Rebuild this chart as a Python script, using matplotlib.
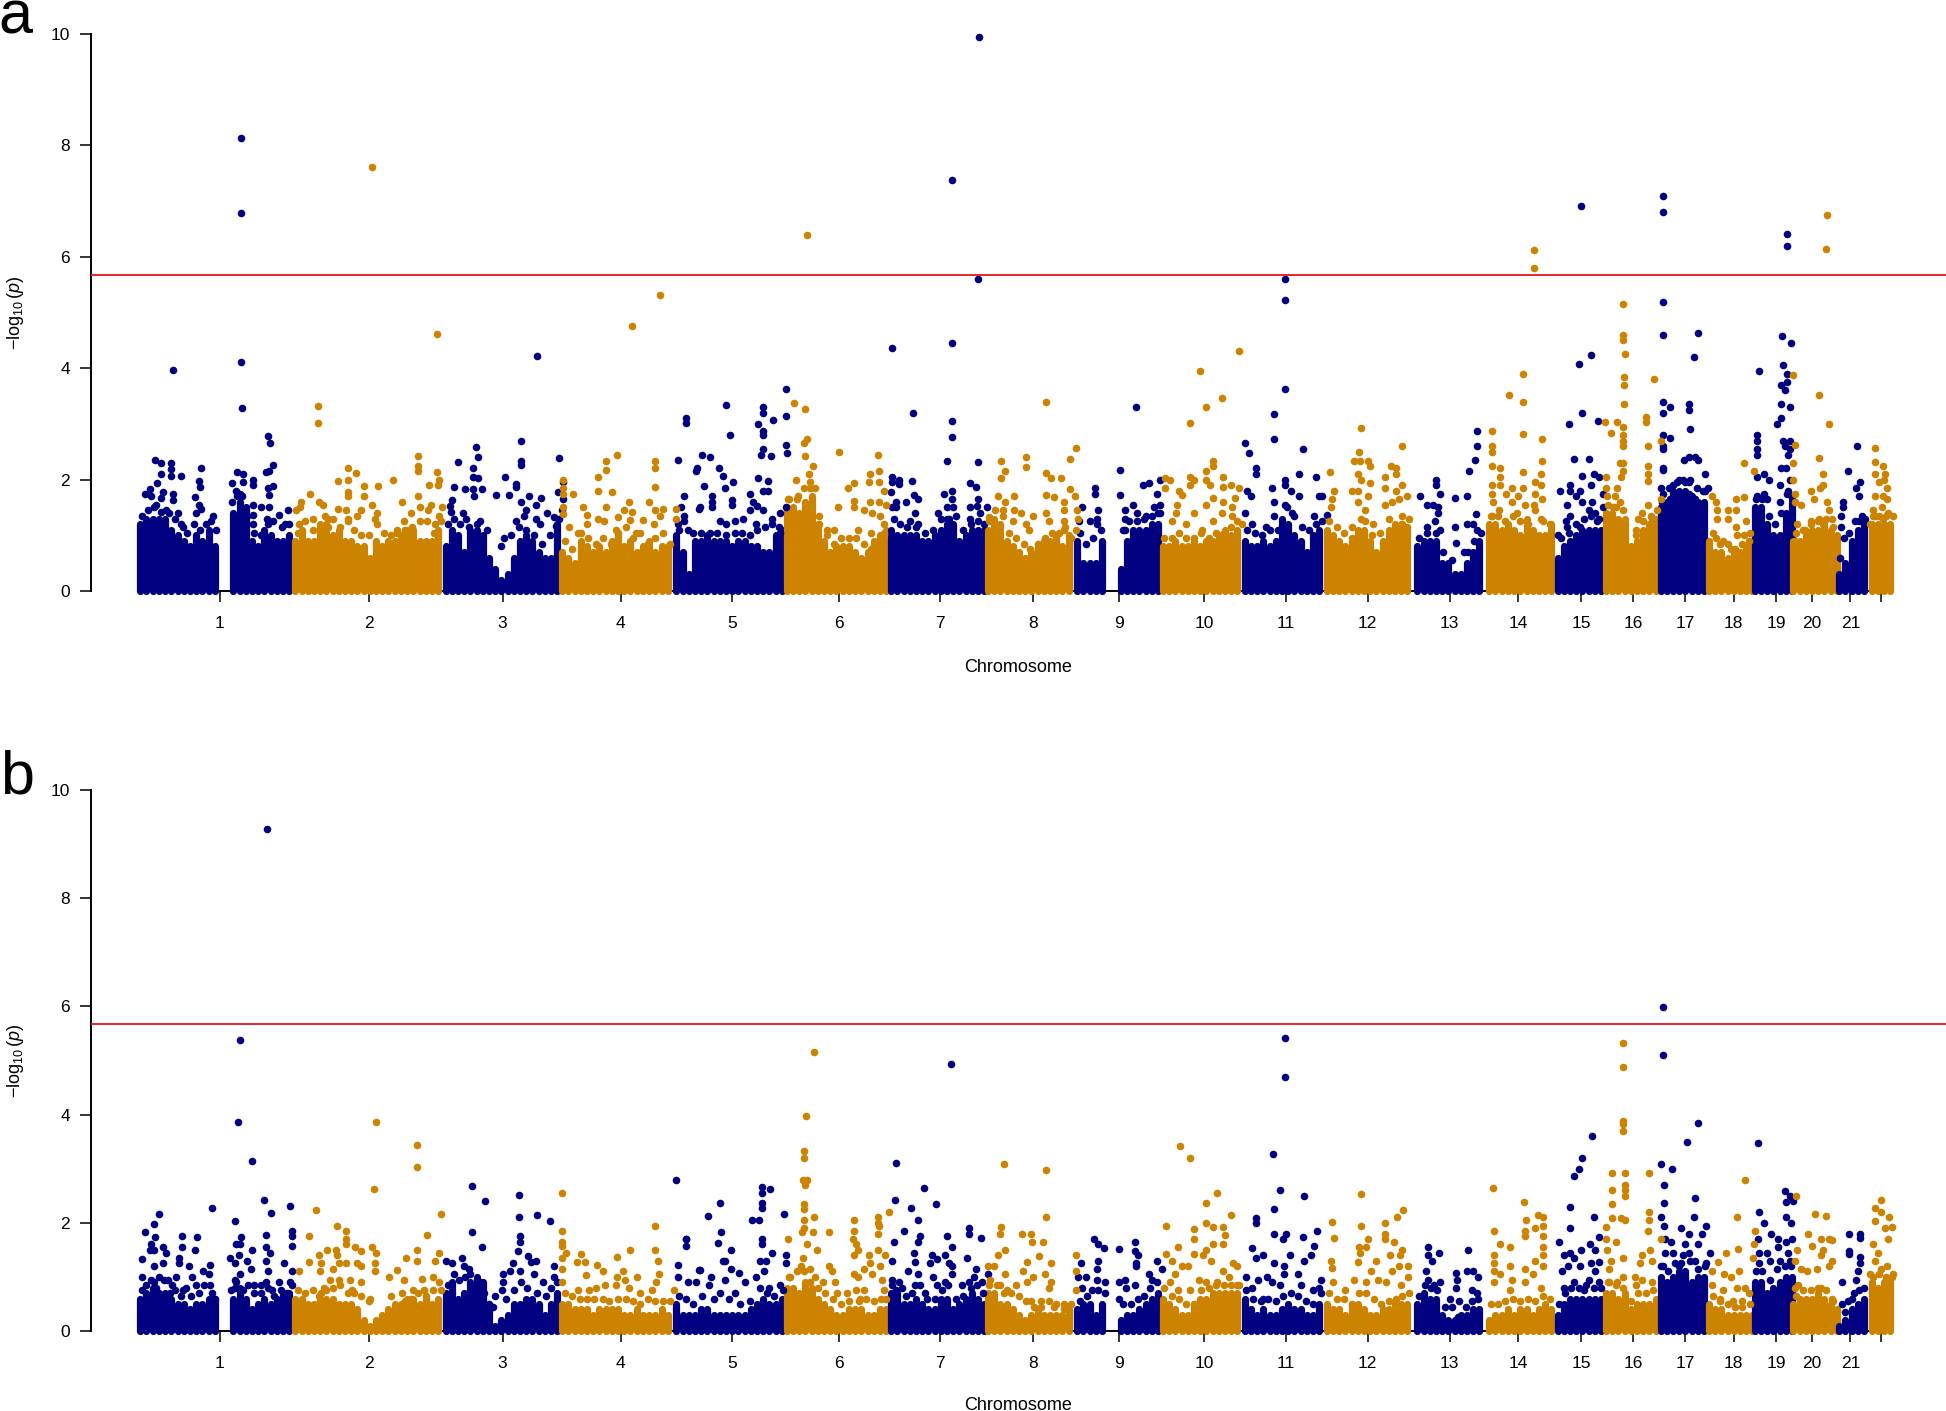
import matplotlib
matplotlib.use('Agg')
from matplotlib import pyplot as plt

plt.rcParams['font.family'] = ['Liberation Sans', 'DejaVu Sans']
plt.rcParams['mathtext.fontset'] = 'custom'
plt.rcParams['mathtext.rm'] = 'Liberation Sans'
plt.rcParams['mathtext.it'] = 'Liberation Sans:italic'

NAVY = '#000080'
GOLD = '#cc8400'

# genome position unit is about 2 Mb
chrom_ticks = [177, 297, 405, 500, 590, 676, 757, 832, 902, 970, 1036, 1102, 1168, 1223, 1274,
               1316, 1358, 1397, 1431, 1460, 1491, 1516]
chrom_labels = [str(i) for i in range(1, 22)] + ['']
threshold = 5.67

# start of each chromosome's 5-unit bins, for the dense mass of points
bin_start = [113, 238, 359, 453, 545, 634, 718, 796, 868, 937, 1003, 1069, 1142, 1200, 1255,
             1294, 1338, 1377, 1414, 1445, 1482, 1508]

# height of the solid mass per bin, panel a
a_mass = [
    [1.2, 1.3, 1.3, 1.3, 1.3, 1.1, 1.0, .9, .8, 1.0, .9, 1.1, .8, 0, 0, 1.4, 1.6, 1.5, .9, .8, 1.1, 1.0, .9, .9, 1.0],
    [.9, 1.1, .9, .9, 1.2, 1.2, 1.0, 1.1, .9, .9, .8, .8, .6, .9, .8, .9, .9, 1.0, 1.1, 1.1, .9, .9, .9, 1.1],
    [.8, 1.1, 1.0, .7, 1.1, 1.1, 1.0, .6, .4, .2, .3, .6, .9, 1.0, .9, .7, .6, .6, 1.2],
    [.7, .6, .5, .9, .8, .7, .8, .7, .9, 1.0, .8, .9, .7, .8, .9, .7, .8, .8],
    [1.0, .7, .3, .9, .9, 1.0, .9, .9, .9, .8, .9, .9, .8, .8, .7, .7, 1.0, 1.1],
    [1.5, 1.5, 1.4, 1.6, 1.7, 1.2, .9, .7, .8, .8, .8, .7, .6, .7, .9, 1.0, 1.1],
    [1.1, 1.0, 1.0, 1.0, 1.0, .9, .9, 1.0, 1.1, 1.2, 1.2, .9, 1.0, 1.1, 1.1, 1.1],
    [1.1, 1.3, 1.2, .9, .8, .7, .6, .7, .8, .9, .9, 1.0, .8, 1.0],
    [.9, .5, .5, .5, .9, 0, 0, .4, .9, 1.1, 1.1, 1.1, 1.2, 1.2],
    [.8, .8, .9, .8, .8, .9, .8, .9, .9, 1.0, 1.1, 1.0, 1.1],
    [.9, .8, .8, .9, .8, .9, 1.3, 1.2, 1.0, .9, .7, 1.0, 1.1],
    [1.1, 1.0, .9, .8, .9, 1.1, 1.1, .9, .7, .9, 1.1, 1.2, 1.2, 1.1],
    [.8, .9, .9, .9, .5, .5, .3, .3, .5, .7, .9],
    [1.2, 1.2, 1.1, 1.2, 1.1, 1.0, 1.3, 1.1, 1.0, 1.0, 1.2],
    [.6, .8, .9, 1.0, 1.1, 1.1, 1.1, 1.1],
    [1.4, 1.4, 1.3, 1.3, .8, .9, 1.1, 1.2, 1.3],
    [1.5, 1.6, 1.8, 1.8, 1.8, 1.7, 1.6, 1.6],
    [.9, .7, .7, .6, .7, .7, .8, .9],
    [1.5, 1.5, 1.2, 1.0, 1.0, 1.4, 1.7],
    [.9, .9, 1.0, 1.1, 1.1, 1.2, 1.1, 1.0],
    [.3, .5, .9, 1.1, 1.2],
    [1.2, 1.2, 1.2, 1.2],
]

# height of the solid mass per bin, panel b
b_mass = [
    [.6, .7, .8, .7, .7, .6, .5, .5, .4, .5, .5, .6, .6, 0, 0, .6, .8, .6, .4, .5, .6, .5, .6, .7, .7],
    [.6, .6, .5, .5, .6, .6, .6, .5, .5, .5, .4, .2, .1, .2, .3, .4, .5, .5, .6, .6, .5, .6, .5, .6],
    [.7, .9, .6, .7, .9, 1.0, .9, .4, .1, .2, .3, .5, .5, .6, .6, .5, .3, .5, .7],
    [.5, .5, .4, .4, .4, .3, .4, .4, .4, .4, .3, .3, .4, .3, .3, .3, .4, .3],
    [.5, .3, .3, .3, .4, .4, .3, .3, .3, .3, .3, .3, .4, .5, .6, .5, .5, .6],
    [.8, .8, .7, .9, .8, .6, .5, .4, .3, .3, .4, .4, .4, .3, .3, .4, .4],
    [.7, .7, .5, .5, .6, .5, .4, .4, .6, .6, .4, .5, .6, .7, .6, .5],
    [.7, .7, .5, .5, .4, .3, .2, .3, .4, .3, .3, .3, .3, .4],
    [.4, .5, .5, .3, .5, 0, 0, .2, .3, .3, .4, .5, .6, .7],
    [.6, .5, .4, .3, .3, .5, .6, .6, .7, .7, .7, .7, .7],
    [.6, .4, .3, .4, .3, .3, .4, .5, .4, .4, .3, .3, .5],
    [.5, .4, .4, .3, .5, .5, .4, .3, .3, .4, .4, .5, .5, .5],
    [.5, .7, .6, .6, .3, .2, .2, .3, .3, .4, .4],
    [.2, .3, .3, .4, .3, .4, .4, .3, .4, .5, .4],
    [.3, .5, .6, .6, .6, .6, .6, .6],
    [.7, .7, .6, .7, .4, .5, .5, .5, .6],
    [1.0, .9, 1.0, 1.1, 1.1, .9, 1.0, 1.0],
    [.5, .4, .4, .3, .3, .3, .3, .3],
    [.9, .9, .7, .8, .9, 1.0, 1.0],
    [.5, .6, .6, .6, .7, .6, .5, .4],
    [.1, .2, .4, .5, .6],
    [.9, .8, .9, .9],
]

# (position, -log10 p) of the points that stand clear of the mass
a_navy = [
    (139, 3.97), (194, 8.14), (194, 6.79), (194.5, 4.11), (195, 3.28), (125, 2.36), (129.5, 2.3), (138, 2.3), (138, 2.19),
    (138, 2.07), (146, 2.06), (162, 2.2), (160, 1.97), (161, 1.87), (116.5, 1.75), (120.5, 1.84), (126.6, 1.93),
    (129.5, 2.1), (121.6, 1.7), (131, 1.78), (129.5, 1.67), (139, 1.75), (139, 1.63), (157.5, 1.68), (160, 1.55),
    (162, 1.47), (158, 1.4), (126, 1.55), (134, 1.45), (143, 1.4), (147.5, 1.15), (171.6, 1.35), (190.6, 2.14),
    (196, 2.1), (187, 1.93), (190, 1.8), (196, 1.95), (193.5, 1.75), (204, 2.0), (204, 1.9), (216, 2.78), (217.6, 2.65),
    (220, 2.27), (214, 2.14), (217, 2.15), (216, 1.85), (220, 1.88), (217, 1.73), (204, 1.55), (210, 1.5), (217, 1.5),
    (232, 1.46), (225, 1.37), (204, 1.2), (204, 1.37), (216, 1.2), (230, 1.2),
    (383.4, 2.58), (385, 2.4), (420, 2.69), (433, 4.22), (450, 2.39), (420, 2.34), (420, 2.27), (369, 2.32), (381, 2.2),
    (381, 2.05), (385, 2.03), (406.5, 2.05), (415.5, 1.92), (416, 1.87), (366, 1.87), (375, 1.83), (381, 1.83), (388, 1.84),
    (382, 1.7), (400, 1.72), (410, 1.72), (426.6, 1.7), (435.6, 1.67), (420, 1.6), (431.6, 1.55), (364, 1.63), (362.6, 1.53),
    (363, 1.42), (373, 1.4), (375.5, 1.3), (387, 1.25), (392, 1.1), (423.7, 1.45), (422, 1.35), (440.6, 1.4), (446, 1.32),
    (431.6, 1.3), (415.5, 1.25), (435, 1.2), (406, .95), (454, 1.95), (454, 1.65), (449.6, 1.77), (448, 1.17),
    (546, 2.36), (553, 3.1), (553, 3.02), (561, 2.15), (551, 1.7), (549, 1.5), (546, 1.2), (563, 1.47), (554, 1.1),
    (585, 3.34), (588, 2.8), (566, 2.44), (572, 2.4), (561.5, 2.2), (579, 2.2), (582.5, 2.07), (567, 1.89), (584, 1.85),
    (591, 1.95), (573.6, 1.7), (573.6, 1.6), (564, 1.5), (573.6, 1.5), (590, 1.63), (590, 1.55), (610.5, 2.03), (619, 1.97),
    (615, 3.3), (615, 3.2), (611, 3.0), (622.7, 3.07), (615, 2.87), (615, 2.8), (615, 2.55), (613.5, 2.45), (621, 2.42),
    (633, 3.63), (633, 3.14), (633, 2.62), (634, 2.47), (615, 1.8), (618.7, 1.8), (604, 1.75), (607, 1.6), (610, 1.53),
    (604, 1.45), (599, 1.3), (580, 1.25), (585, 1.2), (592, 1.25), (609, 1.2), (622, 1.3), (615, 1.45), (628.6, 1.4),
    (633, 1.5), (551, 1.35), (551, 1.25), (628.6, 1.05),
    (719, 4.37), (736, 3.2), (767, 7.37), (767, 4.45), (767, 3.05), (767, 2.77), (789, 9.95), (788, 5.6), (788, 2.32),
    (763.4, 2.33), (719, 2.05), (724, 2.0), (719, 1.95), (724.6, 1.92), (734.8, 1.97), (718, 1.77), (736.8, 1.73), (740, 1.65),
    (730, 1.6), (721.7, 1.6), (721.7, 1.5), (719, 1.5), (760.8, 1.75), (767, 1.8), (767, 1.65), (781.5, 1.93), (786.5, 1.87),
    (788, 1.65), (787, 1.53), (781.5, 1.5), (795, 1.5), (763.4, 1.5), (756, 1.4), (768, 1.5), (737, 1.4), (733, 1.25), (740, 1.2),
    (790, 1.4), (781.5, 1.3), (765, 1.3),
    (915.7, 3.3), (902.5, 2.18), (902.5, 1.72), (882, 1.85), (882, 1.75), (872, 1.5), (885, 1.45), (884, 1.3), (878.5, 1.25),
    (869.6, 1.25), (883.5, 1.2), (906.5, 1.45), (906.5, 1.3), (906.5, 1.1), (913, 1.55), (916, 1.4), (921, 1.9), (925.6, 1.93),
    (932, 1.75), (934.5, 2.0), (929.5, 1.5), (935, 1.55), (923, 1.35), (935, 1.4),
    (1035, 5.6), (1035, 5.22), (1035.4, 3.63), (1026.5, 3.17), (1026.5, 2.72), (1003.5, 2.65), (1006, 2.47), (1050, 2.55),
    (1012, 2.2), (1012.4, 2.1), (1047, 2.1), (1060, 2.05), (1025, 1.85), (1035, 2.0), (1035, 1.9), (1004.5, 1.8), (1008, 1.7),
    (1040, 1.8), (1047, 1.7), (1026.5, 1.6), (1035, 1.55), (1058.8, 1.35), (1063, 1.7), (1026.5, 1.35), (1003.5, 1.4),
    (1008.5, 1.2), (1020, 1.15), (1041, 1.4), (1065, 1.7), (1069, 1.37),
    (1190, 2.88), (1190, 2.6), (1188.6, 2.35), (1184, 2.15), (1157, 2.0), (1157, 1.9), (1160, 1.75), (1144.5, 1.7), (1172.6, 1.67),
    (1182, 1.7), (1150, 1.55), (1155, 1.55), (1158.7, 1.5), (1158.7, 1.4), (1156.4, 1.25), (1150, 1.15), (1160, 1.1), (1172, 1.15),
    (1182, 1.2), (1187, 1.2), (1189, 1.38), (1190, 1.1), (1173, .87), (1180, .7),
    (1274, 6.91), (1272, 4.08), (1282, 4.24), (1275, 3.2), (1264, 3.0), (1287.5, 3.06), (1268, 2.37), (1280, 2.37), (1275, 2.07),
    (1284, 2.1), (1288, 2.05), (1281.6, 1.9), (1256.6, 1.8), (1265, 1.9), (1265, 1.8), (1273, 1.8), (1291.5, 1.75), (1270, 1.7),
    (1263, 1.55), (1275, 1.6), (1283, 1.6), (1292, 1.5), (1265, 1.35), (1261.6, 1.25), (1280, 1.45), (1285, 1.4), (1286.5, 1.25),
    (1263, 1.15), (1273, 1.15), (1255, 1.0),
    (1340, 7.1), (1340, 6.8), (1340, 5.18), (1340, 4.6), (1368, 4.63), (1365, 4.2), (1339.7, 3.4), (1346, 3.3), (1339.7, 3.2),
    (1360.6, 3.35), (1361, 3.25), (1362, 2.9), (1340, 2.8), (1346, 2.75), (1340, 2.55), (1340, 2.6), (1357, 2.36), (1361, 2.4),
    (1365.6, 2.4), (1368, 2.35), (1339.7, 2.2), (1339.7, 2.17), (1373.5, 2.1), (1338.3, 1.85), (1348, 1.9), (1353, 2.0), (1358, 1.95),
    (1361, 1.95), (1376, 1.85), (1365.6, 1.65), (1346, 1.65), (1339, 1.6), (1374, 1.8), (1361, 1.75),
    (1440, 6.41), (1440, 6.2), (1436, 4.57), (1443, 4.45), (1417.7, 3.95), (1437, 4.05), (1440, 3.9), (1439.6, 3.75), (1435, 3.7),
    (1438, 3.6), (1435, 3.35), (1442, 3.3), (1435, 3.1), (1432, 3.0), (1416, 2.8), (1416, 2.7), (1416, 2.55), (1416, 2.45), (1437, 2.7),
    (1442.6, 2.7), (1438.6, 2.6), (1442.6, 2.55), (1441, 2.45), (1435, 2.2), (1439, 2.2), (1421, 2.1), (1416, 2.05), (1425, 2.0),
    (1442.6, 2.0), (1434, 1.9), (1421, 1.75), (1416, 1.7), (1424, 1.65), (1434, 1.6), (1441, 1.8),
    (1496.4, 2.6), (1488.7, 2.15), (1499, 1.95), (1495.7, 1.85), (1498, 1.7), (1485, 1.6), (1485, 1.5), (1483, 1.35), (1483, 1.15),
    (1486, .95), (1498, 1.25), (1482.4, .6),
]

# points just above the mass, they break up its top edge
a_navy_top = [
    (114, 1.35), (119, 1.45), (124, 1.5), (130, 1.42), (136, 1.4), (141, 1.3), (146, 1.2), (151, 1.05), (156, 1.2), (161, 1.1), (166, 1.2),
    (170, 1.25), (174, 1.1), (187, 1.6), (191, 1.7), (195, 1.7), (199, 1.35), (205, 1.05), (210, 1.0), (215, 1.3), (220, 1.25), (227, 1.15), (233, 1.2),
    (361, 1.2), (366, 1.3), (371, 1.2), (378, 1.15), (384, 1.2), (388, .95), (404, .8), (412, 1.0), (418, 1.15), (424, 1.1), (430, 1.0), (437, .85),
    (443, 1.0), (450, 1.3), (453, 1.45),
    (547, 1.1), (558, 1.05), (565, 1.05), (572, 1.05), (578, 1.05), (585, 1.0), (592, 1.05), (598, 1.05), (604, 1.0), (610, 1.1), (616, 1.15), (622, 1.2), (628, 1.15),
    (720, 1.3), (725, 1.2), (731, 1.15), (738, 1.15), (745, 1.05), (752, 1.1), (758, 1.3), (763, 1.3), (770, 1.35), (776, 1.1), (782, 1.2), (788, 1.25), (793, 1.2),
    (870, 1.05), (875, .85), (881, .95), (887, 1.1), (905, 1.1), (910, 1.25), (916, 1.25), (922, 1.3), (928, 1.35), (933, 1.4),
    (1005, 1.1), (1011, 1.05), (1017, 1.0), (1023, 1.1), (1030, 1.1), (1037, 1.5), (1043, 1.35), (1049, 1.15), (1055, 1.1), (1060, 1.2), (1065, 1.25),
    (1143, .95), (1150, 1.05), (1157, 1.05), (1163, .7), (1170, .55), (1183, .7), (1188, .9), (1193, 1.05),
    (1258, .95), (1264, 1.05), (1270, 1.2), (1276, 1.3), (1282, 1.35), (1288, 1.3),
    (1340, 1.75), (1345, 1.85), (1351, 1.95), (1356, 2.0), (1362, 2.0), (1367, 1.85), (1372, 1.8),
    (1415, 1.65), (1420, 1.65), (1425, 1.35), (1430, 1.2), (1435, 1.4), (1440, 1.75),
    (1490, 1.05), (1495, 1.25), (1500, 1.35), (1503, 1.3),
]

a_gold = [
    (256, 3.32), (256, 3.02), (300, 7.62), (352, 4.62), (337, 2.43), (337, 2.25), (337, 2.15), (352, 2.14), (280, 2.2), (287, 2.12),
    (316.5, 2.0), (272.6, 1.97), (280, 2.0), (293.5, 1.88), (304.6, 1.88), (345.6, 1.9), (352.5, 1.9), (353.6, 2.0), (280, 1.78),
    (280, 1.7), (293.5, 1.7), (250, 1.75), (337, 1.7), (242.8, 1.6), (242, 1.5), (256.8, 1.6), (260, 1.55), (300, 1.55), (323.7, 1.6),
    (338, 1.5), (347, 1.55), (345, 1.45), (272.6, 1.47), (278.8, 1.45), (291, 1.45), (304, 1.4), (331, 1.4), (238.5, 1.45), (356, 1.5),
    (354, 1.35), (252, 1.3), (264, 1.3), (288, 1.35), (280.6, 1.3), (302, 1.3), (325.5, 1.25), (350.7, 1.2), (241, 1.2), (264, 1.15),
    (320, 1.1), (304, 1.2),
    (509, 4.75), (532, 5.32), (497.5, 2.44), (488, 2.33), (488, 2.17), (482, 2.04), (482, 1.8), (492.8, 1.78), (528, 2.33), (528, 2.2),
    (528, 1.87), (454, 2.0), (454, 1.85), (454, 1.75), (461.5, 1.75), (523, 1.6), (507, 1.6), (469.4, 1.5), (488, 1.5), (502.5, 1.45),
    (509, 1.42), (534, 1.48), (527.7, 1.45), (454, 1.5), (454, 1.38), (473, 1.37), (482, 1.3), (498, 1.33), (518, 1.27), (531.6, 1.35),
    (545, 1.48), (545, 1.3), (458.6, 1.15), (473, 1.2), (487, 1.25), (508, 1.27), (527, 1.2), (496, 1.1), (466, 1.05), (512.6, 1.05),
    (650, 6.4), (640, 3.38), (648.6, 3.26), (650, 2.72), (648, 2.65), (649, 2.43), (655, 2.25), (676, 2.5), (707.5, 2.44), (708.5, 2.15),
    (701, 2.1), (700, 1.95), (688.4, 1.93), (683, 1.85), (651.6, 2.1), (641.7, 2.0), (653, 1.95), (656.5, 1.85), (708, 1.95), (712.5, 1.8),
    (642.7, 1.7), (635, 1.65), (688.4, 1.62), (688.4, 1.5), (701, 1.6), (708, 1.6), (714, 1.55), (675, 1.5), (696, 1.45), (702.6, 1.4),
    (709, 1.35), (659.8, 1.2), (666, 1.1), (672, 1.1), (691.7, 1.1), (701.6, 1.05), (712.5, 1.2), (658, 1.05), (712.5, 1.0),
    (843, 3.4), (867, 2.57), (862, 2.37), (826.6, 2.4), (826.6, 2.23), (806.8, 2.33), (809.8, 2.15), (806.8, 2.03), (843, 2.12), (847, 2.03),
    (854.5, 2.03), (862, 1.83), (843, 1.73), (849, 1.68), (857, 1.6), (866, 1.7), (804.5, 1.7), (816.7, 1.7), (810, 1.6), (817, 1.45),
    (797, 1.33), (822.6, 1.4), (832.5, 1.35), (843, 1.4), (857, 1.45), (867.7, 1.45), (816, 1.25), (827, 1.2), (845.6, 1.25), (857, 1.25),
    (868.7, 1.3), (829, 1.1), (857, 1.1), (867, 1.1), (807.8, 1.45),
    (998, 4.3), (967, 3.95), (985, 3.47), (971.6, 3.3), (958.5, 3.02), (977, 2.33), (977, 2.25), (972, 2.15), (959, 2.05), (961.7, 2.0),
    (971.6, 2.0), (985.4, 2.05), (938.7, 2.03), (942.7, 2.0), (939, 1.85), (958.5, 1.9), (975, 1.9), (985.4, 1.87), (992, 1.9), (998.6, 1.85),
    (950, 1.8), (952, 1.73), (977, 1.67), (995, 1.67), (985.4, 1.6), (948.6, 1.55), (972, 1.55), (992.7, 1.5), (947.6, 1.4), (962.4, 1.4),
    (984.8, 1.4), (992.7, 1.35), (944, 1.25), (955.8, 1.2), (977, 1.25), (968.3, 1.1), (1001, 1.2),
    (1097, 2.92), (1095, 2.5), (1090.7, 2.33), (1095.6, 2.33), (1102, 2.33), (1104, 2.25), (1130, 2.6), (1120.5, 2.25), (1124.5, 2.2),
    (1125, 2.1), (1094, 2.1), (1115.6, 2.05), (1097, 2.0), (1104, 1.93), (1129.5, 1.9), (1094, 1.8), (1089, 1.8), (1115.6, 1.85), (1125, 1.8),
    (1102, 1.7), (1134, 1.7), (1127, 1.65), (1094, 1.6), (1072, 2.13), (1074.7, 1.8), (1073, 1.65), (1072.4, 1.5), (1100, 1.45), (1115.6, 1.55),
    (1122, 1.6), (1119, 1.3), (1097, 1.3), (1089, 1.15), (1130, 1.2), (1134, 1.15), (1105.6, 1.0),
    (1236, 6.13), (1236, 5.8), (1227, 3.9), (1216, 3.52), (1227, 3.4), (1227, 2.82), (1242.7, 2.73), (1202, 2.87), (1202, 2.6), (1202, 2.5),
    (1202, 2.25), (1208.5, 2.2), (1208.5, 2.05), (1227, 2.13), (1242.7, 2.33), (1241.7, 2.1), (1241.7, 1.9), (1236.7, 1.95), (1202, 1.9),
    (1202, 1.75), (1208.5, 1.9), (1218, 1.85), (1213.5, 1.75), (1223, 1.7), (1227, 1.85), (1236.7, 1.75), (1242.7, 1.65), (1203, 1.6),
    (1218.5, 1.6), (1228.5, 1.55), (1235.7, 1.55), (1208, 1.45), (1222, 1.4), (1241.7, 1.3), (1202, 1.35),
    (1308, 5.15), (1308, 4.6), (1308, 4.5), (1309, 4.25), (1308.5, 3.85), (1308.5, 3.7), (1308.5, 3.35), (1333, 3.8), (1293.5, 3.03), (1303, 3.03),
    (1308, 2.95), (1298, 2.83), (1308, 2.8), (1308, 2.7), (1308, 2.6), (1326.4, 3.12), (1326.4, 3.03), (1327.7, 2.6), (1338, 2.7), (1305, 2.3),
    (1308, 2.3), (1308, 2.15), (1306.5, 2.05), (1328, 2.25), (1328, 2.1), (1328, 1.98), (1294, 2.05), (1294, 1.85), (1295, 1.7), (1303, 1.85),
    (1301.5, 1.7), (1305, 1.6), (1328, 1.55), (1320, 1.3), (1323, 1.4), (1300, 1.5), (1318, 1.1), (1331, 1.3), (1338, 1.65),
    (1405, 2.3), (1413, 2.15), (1379.5, 1.7), (1383, 1.6), (1383.5, 1.45), (1399, 1.65), (1405.4, 1.68), (1392, 1.45), (1399, 1.45), (1392, 1.3),
    (1383.5, 1.3), (1399, 1.15), (1407, 1.25), (1405.4, 1.0), (1383, .95), (1388, .9), (1399.4, 1.0), (1394.4, .75), (1409.4, .9),
    (1472, 6.75), (1471, 6.14), (1444.6, 3.87), (1465.8, 3.52), (1474, 3.0), (1446.5, 2.63), (1465.8, 2.38), (1445, 2.3), (1468.5, 2.1), (1445, 2.0),
    (1469, 1.9), (1466.5, 1.85), (1459, 1.8), (1446.5, 1.75), (1461.5, 1.65), (1446, 1.6), (1451, 1.55), (1471.8, 1.6), (1474, 1.45), (1475.8, 1.3),
    (1466, 1.3), (1459, 1.25), (1454, 1.1), (1469, 1.2), (1447.6, 1.2), (1446, .9), (1449, .75),
    (1511, 2.57), (1510.6, 2.32), (1517, 2.25), (1510.6, 2.1), (1519, 2.1), (1518, 2.0), (1514, 1.95), (1520.6, 1.85), (1510.6, 1.7), (1517, 1.7),
    (1520.6, 1.65), (1516.3, 1.5), (1509, 1.45), (1521.6, 1.4), (1507, 1.2), (1517, 1.3), (1510.6, 1.35),
]

a_gold_top = [
    (240, 1.05), (246, 1.25), (252, 1.1), (258, 1.05), (262, 1.35), (268, 1.3), (274, 1.15), (280, 1.25), (285, 1.1), (291, 1.0), (297, 1.0), (303, .85),
    (309, 1.05), (315, 1.0), (320, 1.05), (326, 1.1), (332, 1.15), (338, 1.25), (344, 1.25), (350, 1.05), (355, 1.25),
    (455, .9), (461, .75), (468, 1.05), (474, .95), (480, .85), (486, .95), (492, .85), (498, 1.05), (504, 1.15), (510, .95), (516, 1.05), (522, .85),
    (528, .95), (534, 1.05), (540, .85),
    (636, 1.65), (642, 1.65), (648, 1.85), (653, 1.85), (660, 1.35), (666, 1.0), (672, .85), (678, .95), (684, .95), (690, .95), (696, .85), (702, .75),
    (707, .85), (712, 1.05),
    (797, 1.25), (802, 1.45), (808, 1.35), (813, 1.05), (819, .95), (825, .85), (830, .75), (836, .85), (842, .95), (848, 1.05), (853, 1.05), (858, 1.15), (863, .95),
    (938, .95), (944, .95), (950, 1.05), (956, .95), (962, .95), (968, 1.05), (974, .95), (980, 1.05), (986, 1.05), (992, 1.15), (997, 1.25),
    (1071, 1.25), (1077, 1.15), (1083, 1.05), (1089, .95), (1095, 1.05), (1100, 1.25), (1106, 1.2), (1112, 1.05), (1118, .85), (1124, 1.05), (1130, 1.35), (1135, 1.3),
    (1201, 1.35), (1207, 1.35), (1213, 1.25), (1219, 1.35), (1225, 1.25), (1231, 1.2), (1237, 1.45), (1243, 1.25), (1249, 1.2),
    (1296, 1.55), (1302, 1.5), (1308, 1.45), (1318, 1.0), (1324, 1.25), (1330, 1.35), (1335, 1.45),
    (1380, 1.05), (1386, .85), (1392, .85), (1398, .75), (1404, .85), (1410, 1.05),
    (1447, 1.05), (1453, 1.1), (1459, 1.2), (1465, 1.25), (1471, 1.3), (1477, 1.15),
    (1509, 1.35), (1514, 1.35), (1520, 1.35), (1525, 1.35),
]

b_navy = [
    (215, 9.28), (193, 5.37), (192, 3.87), (203, 3.14), (212.6, 2.43), (218, 2.19), (233.4, 2.31), (171, 2.27), (189.6, 2.03), (127.7, 2.16),
    (124, 1.97), (117, 1.83), (125, 1.73), (122, 1.6), (120.5, 1.5), (124, 1.5), (114.4, 1.33), (131, 1.55), (134, 1.45), (146.8, 1.75),
    (159, 1.74), (146.8, 1.55), (157, 1.5), (144, 1.35), (144.6, 1.25), (131, 1.25), (124, 1.2), (152, 1.2), (169, 1.22), (163.7, 1.1),
    (114.4, 1.0), (135, .95), (142, 1.0), (155, 1.0), (168, 1.05), (124, .9), (138.5, .85), (158, .85), (169, .85), (147.5, .75), (126, .8),
    (194, 1.73), (190, 1.6), (193.5, 1.6), (185, 1.35), (192.4, 1.4), (189, 1.25), (203, 1.5), (199, 1.3), (202.5, 1.15), (214.7, 1.78),
    (214, 1.55), (217.6, 1.45), (214.7, 1.3), (216, 1.1), (235.6, 1.85), (235.6, 1.75), (235.6, 1.58), (229, 1.25), (235.6, 1.1), (189, .95),
    (189, .8), (199.6, .85), (205, .85), (214, .9), (225, .9), (233.8, .9), (210, .7), (219.4, .75),
    (380, 2.68), (390.6, 2.4), (418, 2.52), (418, 2.1), (432.7, 2.15), (443.5, 2.04), (380, 1.83), (388.5, 1.55), (419, 1.76), (419, 1.65),
    (417, 1.48), (425.5, 1.38), (359.7, 1.3), (364, 1.25), (372, 1.35), (374, 1.2), (377.7, 1.15), (413.7, 1.25), (428, 1.28), (431.6, 1.3),
    (446, 1.2), (405, 1.05), (411, 1.1), (419, 1.1), (430, 1.05), (386.7, .9), (405, .9), (437.7, .9), (446, 1.0), (390, .7), (399, .65),
    (397.5, .45), (404.7, .75), (444, .8),
    (545, 2.8), (552.9, 1.7), (552.9, 1.57), (546, 1.22), (546, 1.0), (563, 1.13), (554, .9), (620.7, 2.63), (613.8, 2.67), (613.8, 2.55),
    (613.8, 2.36), (613.8, 2.27), (580, 2.37), (570.7, 2.13), (605.6, 2.06), (611.5, 2.05), (632, 2.17), (581, 1.83), (553, 1.7), (578.6, 1.62),
    (589, 1.5), (613.8, 1.7), (613.8, 1.6), (622, 1.45), (633, 1.4), (633, 1.25), (584, 1.3), (582.5, 1.3), (589, 1.15), (595.7, 1.08),
    (612, 1.3), (617, 1.3), (564.4, 1.13), (572.7, 1.0), (600.6, .9), (609, 1.0), (628.6, .85), (615.4, 1.1), (561, .9), (584, .95),
    (592, .7), (620, .8), (571, .85),
    (766, 4.93), (721.7, 3.1), (721, 2.43), (744.7, 2.65), (754, 2.35), (734, 2.27), (739.4, 2.05), (790.7, 1.72), (781, 1.9), (781, 1.79),
    (728, 1.85), (763.4, 1.75), (766.7, 1.55), (720.7, 1.65), (741, 1.75), (739.4, 1.65), (736.5, 1.45), (751, 1.4), (755, 1.33), (761.8, 1.4),
    (779, 1.35), (737, 1.27), (749, 1.25), (719, 1.3), (765, 1.25), (766.7, 1.2), (786.5, 1.15), (732, 1.1), (739.7, 1.05), (752, 1.0),
    (761.8, .9), (766.7, 1.05), (784.8, 1.0), (796, 1.05), (780.9, .9), (737, .85), (755, .85), (791.4, .9), (719, .95), (727, .8), (745, .7),
    (775, .85), (722, .75),
    (901.6, 1.52), (881.8, 1.7), (885, 1.6), (889.4, 1.53), (914.7, 1.64), (914.7, 1.48), (917, 1.4), (915.7, 1.25), (915.7, 1.2), (871, 1.25),
    (884.5, 1.3), (883.5, 1.15), (932, 1.3), (936, 1.15), (925.6, 1.05), (928, .95), (906.5, .95), (901.6, .9), (890, .9), (868.7, 1.0),
    (875, 1.0), (883.5, .95), (907, .8), (914.7, .85), (901.6, .6), (872, .8), (890, .7),
    (1035, 5.42), (1035, 4.7), (1026, 3.27), (1031.5, 2.6), (1050.6, 2.5), (1026.5, 2.25), (1012.4, 2.08), (1012.4, 2.0), (1026.5, 1.8), (1035.8, 1.8),
    (1034, 1.7), (1049.6, 1.74), (1061, 1.85), (1058.4, 1.58), (1008.5, 1.53), (1012.4, 1.35), (1018, 1.4), (1039.7, 1.4), (1026.5, 1.25), (1050.6, 1.3),
    (1056, 1.4), (1034.8, 1.2), (1004, 1.0), (1013.4, .95), (1020.6, 1.0), (1034.8, 1.05), (1045.6, 1.05), (1025, .9), (1031.5, .85), (1048, .85),
    (1008.5, .8), (1057.8, .75), (1018, .6), (1064, .95), (1062.4, .8),
    (1151, 1.55), (1159.7, 1.44), (1150.4, 1.4), (1153.7, 1.3), (1182.6, 1.49), (1148.8, 1.1), (1150.4, .95), (1155.4, .85), (1160.4, .9), (1173, 1.07),
    (1182, 1.1), (1187, 1.1), (1191, 1.0), (1173.7, .95), (1173, .8), (1186, .75), (1168.7, .6), (1190, .7), (1165, .05), (1170, .45), (1175.3, .55),
    (1175, .25), (1172, .1),
    (1282.6, 3.6), (1275, 3.2), (1272.6, 3.0), (1268.6, 2.87), (1265, 2.3), (1265.3, 1.9), (1284.5, 2.1), (1288, 1.74), (1256, 1.65), (1274, 1.5),
    (1281, 1.6), (1285, 1.5), (1260, 1.4), (1265, 1.45), (1268.3, 1.35), (1281.6, 1.25), (1288, 1.27), (1258.3, 1.1), (1263.3, 1.2), (1273, 1.2),
    (1285, 1.1), (1268.3, .9), (1276.6, .75), (1260, .8), (1280, .95), (1288, .9),
    (1340, 5.98), (1340, 5.1), (1368.5, 3.85), (1359, 3.5), (1338.7, 3.08), (1347, 3.0), (1341, 2.7), (1366, 2.45), (1341, 2.37), (1338.7, 2.1),
    (1364.6, 2.1), (1340.7, 1.95), (1374.5, 1.95), (1354.6, 1.9), (1361, 1.8), (1371, 1.8), (1341.3, 1.7), (1346.3, 1.65), (1358, 1.6), (1368, 1.6),
    (1341.3, 1.45), (1348, 1.45), (1361, 1.45), (1378, 1.45), (1366, 1.3), (1354.6, 1.25), (1374.5, 1.25), (1339.6, 1.2), (1353, 1.2),
    (1416.7, 3.47), (1438.3, 2.58), (1442, 2.5), (1439, 2.38), (1445, 2.4), (1417.3, 2.2), (1421.7, 2.0), (1439, 2.1), (1443, 2.0), (1427, 1.8),
    (1416.7, 1.7), (1433, 1.7), (1439, 1.65), (1444, 1.7), (1432.6, 1.55), (1441, 1.45), (1417, 1.45), (1424, 1.45), (1434, 1.3), (1442.6, 1.3),
    (1417.7, 1.25), (1426, 1.3),
    (1489.7, 1.8), (1499, 1.8), (1499, 1.72), (1489.7, 1.47), (1489.7, 1.42), (1499, 1.37), (1498.4, 1.25), (1497.4, 1.1), (1484, .9), (1495.7, .95),
    (1494, .7), (1484, .5), (1489, .55),
]

b_navy_top = [
    (114, .75), (118, .85), (122, .95), (128, 1.0), (132, .95), (137, .7), (141, .75), (146, .65), (150, .8), (154, .65), (160, .7), (164, .85), (171, .7),
    (173, .6), (186, .75), (190, .9), (193, 1.05), (196, .75), (205, .7), (210, .85), (216, .8), (221, .65), (226, .75), (231, .7), (235, .85),
    (361, .85), (366, 1.05), (370, .95), (375, 1.0), (379, 1.05), (384, .95), (394, .5), (408, .6), (414, .75), (420, .9), (425, .8), (433, .7), (440, .65), (449, .9),
    (547, .65), (553, .6), (558, .5), (566, .65), (575, .6), (580, .7), (587, .6), (596, .5), (604, .55), (612, .8), (618, .7), (624, .65), (631, .75),
    (719, .85), (724, .9), (730, .65), (735, .7), (741, .85), (747, .6), (753, .6), (759, .75), (764, .85), (770, .6), (776, .65), (782, .8), (787, .85), (792, .7),
    (870, .55), (876, .65), (880, .75), (885, .75), (905, .5), (911, .5), (917, .6), (922, .65), (927, .8), (932, .9),
    (1004, .75), (1010, .6), (1016, .55), (1022, .6), (1028, .55), (1034, .65), (1040, .7), (1046, .65), (1052, .55), (1058, .5), (1064, .7),
    (1143, .65), (1148, .85), (1153, .8), (1158, .75), (1164, .45), (1181, .45), (1186, .55), (1191, .6),
    (1256, .5), (1261, .7), (1266, .8), (1272, .8), (1278, .85), (1284, .8), (1290, .8),
    (1338, 1.2), (1344, 1.1), (1350, 1.25), (1356, 1.4), (1362, 1.3), (1368, 1.15), (1374, 1.2),
    (1415, 1.1), (1420, 1.1), (1426, .95), (1432, 1.15), (1438, 1.2), (1443, 1.2),
    (1487, .35), (1492, .6), (1498, .75), (1502, .8),
]

b_gold = [
    (254.7, 2.24), (302.9, 3.87), (336.3, 3.44), (336.3, 3.03), (301, 2.63), (355, 2.16), (249, 1.75), (271.6, 1.95), (278.8, 1.85), (278.8, 1.7),
    (278.8, 1.6), (286, 1.55), (291, 1.48), (300, 1.55), (303, 1.45), (344, 1.77), (335.6, 1.5), (263.7, 1.5), (270.5, 1.5), (257, 1.4), (249, 1.27),
    (259, 1.25), (241, 1.1), (271.6, 1.4), (273.4, 1.25), (278.8, 1.25), (288, 1.25), (302, 1.25), (291, 1.2), (327.3, 1.35), (335.6, 1.3), (354, 1.45),
    (350.7, 1.3), (320, 1.12), (313.7, 1.0), (258, 1.1), (268, 1.15), (302, 1.1), (266, .95), (273.4, .95), (282, .95), (291, .9), (325.5, .95),
    (340, .97), (349, 1.0), (354, .9), (260.8, .8), (284, .75), (298.5, .6), (314.7, .65), (323.7, .7), (332.7, .75), (341.7, .75), (259, .7),
    (452.9, 2.55), (452.9, 1.85), (452.9, 1.65), (452.9, 1.58), (527.7, 1.95), (527.7, 1.5), (508, 1.5), (497.5, 1.37), (468.3, 1.42), (455.7, 1.45),
    (453, 1.35), (530, 1.3), (465, 1.27), (471, 1.27), (481, 1.22), (453, 1.15), (485.6, 1.1), (501.8, 1.1), (472.3, 1.03), (513.3, 1.0), (497, 1.0),
    (530.6, 1.05), (453, .9), (487.4, .85), (503.6, .95), (528.8, .9), (543, .75), (480, .8), (525, .75), (516, .7), (465.8, .75), (474.8, .75),
    (496, .85), (507, .8),
    (656, 5.15), (649.6, 3.97), (647.7, 3.33), (647.7, 3.2), (650, 2.8), (646.7, 2.8), (649, 2.7), (648, 2.35), (648, 2.25), (656, 2.1), (647.7, 2.05),
    (647.7, 1.9), (646, 1.83), (655, 1.83), (668, 1.83), (634.8, 1.7), (650, 1.6), (658, 1.5), (687.8, 2.05), (687.8, 1.85), (687, 1.7), (689.4, 1.6),
    (691.7, 1.5), (687.8, 1.4), (707.5, 2.1), (707.5, 2.0), (708.5, 1.95), (716.4, 2.2), (707.5, 1.8), (707.5, 1.5), (713.4, 1.4), (700.3, 1.4),
    (701, 1.25), (709, 1.2), (646.7, 1.35), (668, 1.2), (670, 1.1), (696, 1.15), (687.8, 1.05), (691.7, 1.0), (636.8, 1.0), (645, 1.2), (656.5, 1.0),
    (673, .9), (682.8, .7), (689.4, .75), (702.6, 1.05), (710.8, .95), (696, .75), (712.5, .75), (663, .9), (653, .9), (674.6, .7), (692.7, .6), (714, .6),
    (809, 3.08), (843, 2.97), (843, 2.1), (806.8, 1.93), (806, 1.8), (809.5, 1.5), (804.5, 1.4), (823.6, 1.8), (830.9, 1.8), (831.5, 1.65), (840, 1.65),
    (867, 1.4), (836.8, 1.38), (827.6, 1.27), (846.6, 1.25), (842.4, 1.05), (867, 1.1), (824, 1.1), (832.5, 1.0), (796, 1.2), (801, 1.2), (809.5, 1.05),
    (847, .9), (819, .85), (845.6, .8), (827.6, .9), (798, .95), (806, .85), (839, .55), (857, .5), (867, .75), (811, .75), (830.9, .55), (849, .45),
    (951, 3.42), (958.5, 3.2), (980.5, 2.55), (971.6, 2.37), (992, 2.15), (939.4, 1.95), (962.4, 1.88), (972, 2.0), (977, 1.93), (985.4, 1.93),
    (961.7, 1.7), (987, 1.78), (949, 1.55), (977, 1.6), (985.4, 1.6), (939.4, 1.42), (962.4, 1.42), (972, 1.5), (969, 1.4), (944, 1.3), (952.6, 1.2),
    (975.6, 1.3), (993.7, 1.25), (997, 1.2), (947, 1.05), (957.5, 1.2), (985.4, 1.1), (965.7, .95), (990, 1.0), (942.7, .9), (972, .9), (949, .75),
    (959, .75), (997, .85), (980.5, .9),
    (1096.6, 2.53), (1130.5, 2.24), (1125.5, 2.1), (1116, 2.0), (1073, 2.02), (1097, 1.95), (1116, 1.8), (1074.7, 1.72), (1102, 1.7), (1116, 1.7),
    (1095, 1.55), (1101, 1.55), (1123, 1.65), (1130, 1.5), (1095.6, 1.45), (1120, 1.4), (1128, 1.4), (1072.4, 1.3), (1109, 1.3), (1094, 1.27), (1073, 1.17),
    (1134.5, 1.2), (1127, 1.2), (1104.6, 1.1), (1122, 1.1), (1074, .9), (1090.7, .95), (1110.6, .95), (1134.5, 1.0), (1084, .75), (1100.6, .9), (1117, .9),
    (1129, .85),
    (1203, 2.64), (1227.8, 2.38), (1229.8, 2.05), (1239, 2.15), (1243, 2.1), (1243, 1.95), (1236.7, 1.9), (1228.5, 1.85), (1203.5, 1.85), (1228.5, 1.75),
    (1209, 1.6), (1217, 1.55), (1243, 1.75), (1243, 1.55), (1243, 1.4), (1203.5, 1.4), (1203.5, 1.25), (1217, 1.2), (1228.5, 1.15), (1236.7, 1.3), (1243, 1.2),
    (1203.5, 1.1), (1209, 1.05), (1218.5, .95), (1235, 1.05), (1228.5, .9), (1203.5, .9), (1241.7, .8), (1217, .75),
    (1308, 5.33), (1308, 4.88), (1308, 3.88), (1308, 3.82), (1308, 3.7), (1298.5, 2.92), (1309, 2.92), (1298.5, 2.6), (1309, 2.7), (1309, 2.6), (1309, 2.5),
    (1298.5, 2.35), (1328.7, 2.92), (1328.7, 2.2), (1328.7, 2.05), (1328, 1.85), (1306, 2.08), (1309, 2.05), (1298.5, 2.08), (1294, 1.93), (1294, 1.7),
    (1295, 1.5), (1302, 1.65), (1338, 1.7), (1329.7, 1.5), (1323, 1.4), (1321.4, 1.25), (1308, 1.35), (1298, 1.3), (1296.5, 1.15), (1331, 1.3), (1317.4, 1.0),
    (1323, .95), (1308, 1.0), (1318, .85), (1331.4, .9), (1296.5, .9), (1303, .9),
    (1406, 2.8), (1399.4, 2.1), (1413.7, 1.85), (1413, 1.6), (1400, 1.52), (1390.5, 1.45), (1412.7, 1.35), (1384, 1.27), (1401, 1.1), (1379.5, 1.1),
    (1389.5, 1.05), (1394.4, 1.0), (1406, .8), (1388, .75), (1379.5, .85), (1399.4, .8), (1409.4, .7), (1386, .6), (1396, .55), (1404, .55),
    (1446.9, 2.5), (1462.5, 2.17), (1471, 2.12), (1457, 1.8), (1467.5, 1.7), (1474, 1.7), (1475.8, 1.68), (1460, 1.58), (1448, 1.5), (1469, 1.5), (1467.5, 1.4),
    (1476, 1.3), (1446, 1.3), (1474, 1.2), (1451, 1.15), (1464, 1.15), (1456, 1.1), (1449, .85), (1467.5, .8), (1476, .6), (1446, .8),
    (1515.6, 2.43), (1510.6, 2.28), (1515.6, 2.2), (1522, 2.1), (1510.6, 2.03), (1524.6, 1.92), (1519, 1.9), (1521.6, 1.7), (1509, 1.6), (1513, 1.45),
    (1520.6, 1.2), (1510.6, 1.3), (1515.6, 1.15), (1507, 1.05), (1524.6, 1.0),
]

b_gold_top = [
    (240, .75), (246, .7), (252, .75), (257, .65), (263, .75), (268, .8), (274, .85), (280, .7), (285, .7), (291, .65), (297, .55), (320, .45), (326, .55),
    (331, .6), (337, .7), (343, .65), (349, .75), (355, .75),
    (455, .7), (461, .65), (467, .6), (473, .6), (479, .6), (486, .6), (491, .55), (498, .6), (504, .6), (510, .55), (516, .5), (522, .6), (528, .55), (534, .55), (540, .55),
    (636, 1.0), (642, 1.1), (648, 1.1), (653, 1.15), (659, .8), (665, .7), (671, .6), (678, .5), (684, .55), (692, .55), (698, .6), (704, .55), (710, .6),
    (797, .85), (803, .85), (809, .7), (815, .7), (821, .65), (827, .55), (833, .45), (839, .45), (845, .55), (851, .5), (857, .4), (863, .5),
    (938, .8), (944, .65), (950, .6), (956, .5), (962, .5), (968, .75), (974, .8), (980, .85), (986, .85), (992, .85), (998, .85),
    (1071, .7), (1077, .6), (1083, .6), (1089, .5), (1095, .7), (1101, .7), (1107, .6), (1113, .5), (1119, .55), (1125, .6), (1130, .65), (1135, .7),
    (1201, .5), (1207, .5), (1213, .55), (1219, .6), (1225, .55), (1231, .6), (1237, .55), (1243, .65), (1249, .6),
    (1296, .9), (1302, .85), (1308, .8), (1314, .55), (1320, .7), (1326, .7), (1332, .75),
    (1380, .65), (1386, .55), (1392, .5), (1398, .45), (1404, .45), (1410, .5),
    (1447, .65), (1453, .75), (1459, .75), (1465, .8), (1471, .75), (1477, .55),
    (1509, 1.0), (1514, 1.05), (1520, 1.0), (1525, 1.05),
]

W, H = 1946, 1411


def drawPanel(top, bottom, mass, navy, gold):
    ax = plt.axes([91 / W, 1 - bottom / H, (W - 91) / W, (bottom - top) / H])
    ax.set_xlim(73.3, 1568)
    ax.set_ylim(0, 10)
    ax.patch.set_alpha(0)
    for side in ['top', 'right']:
        ax.spines[side].set_visible(False)
    ax.spines['left'].set_bounds(0, 10)
    ax.spines['bottom'].set_bounds(chrom_ticks[0], chrom_ticks[-1])
    ax.spines['left'].set_linewidth(1.4)
    ax.spines['bottom'].set_linewidth(1.4)
    ax.set_xticks(chrom_ticks)
    ax.set_xticklabels(chrom_labels)
    ax.set_yticks([0, 2, 4, 6, 8, 10])
    ax.tick_params(axis='x', length=8, width=1.1, pad=10, labelsize=12.5)
    ax.tick_params(axis='y', length=8, width=1.1, pad=7, labelsize=12.5)

    for c in range(len(mass)):
        color = NAVY if c % 2 == 0 else GOLD
        for b in range(len(mass[c])):
            if mass[c][b] > 0:
                x = bin_start[c] + b * 5
                ax.plot([x, x], [0, mass[c][b]], color=color, lw=5.2, solid_capstyle='round',
                        clip_on=False, zorder=3)
    for pts, color in [(navy, NAVY), (gold, GOLD)]:
        ax.scatter([p[0] for p in pts], [p[1] for p in pts], s=30, color=color, linewidths=0,
                   clip_on=False, zorder=4)
    ax.axhline(threshold, color='#e8141c', lw=1.3, zorder=5)
    return ax


fig = plt.figure(figsize=(W / 100, H / 100), dpi=100)
drawPanel(34, 591, a_mass, a_navy + a_navy_top, a_gold + a_gold_top)
drawPanel(790, 1331, b_mass, b_navy + b_navy_top, b_gold + b_gold_top)

for y in [668, 1406]:
    fig.text(1018 / W, 1 - y / H, 'Chromosome', ha='center', va='center', fontsize=13)
for y in [313, 1061]:
    fig.text(15 / W, 1 - y / H, r'$-\log_{10}(p)$', rotation=90, ha='center', va='center', fontsize=13)
fig.text(-2 / W, 1 - 33 / H, 'a', fontsize=44, ha='left', va='baseline')
fig.text(0 / W, 1 - 794 / H, 'b', fontsize=44, ha='left', va='baseline')

plt.savefig('out.png', dpi=100)
